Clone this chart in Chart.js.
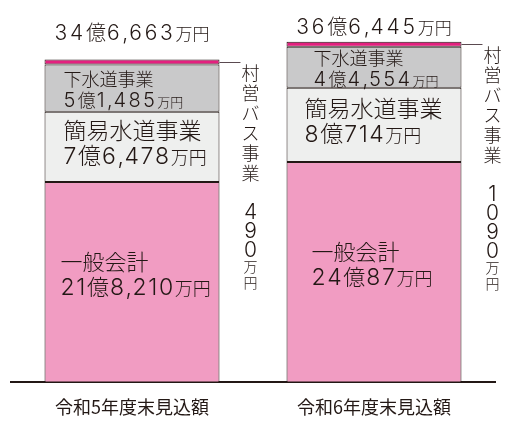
<!DOCTYPE html>
<html lang="ja">
<head>
<meta charset="utf-8">
<script src="https://cdn.jsdelivr.net/npm/chart.js@4"></script>
<style>
  body { margin: 0; background: #fff; }
  #wrap { width: 505px; height: 432px; }
</style>
</head>
<body>
<div id="wrap"><canvas id="myChart" width="505" height="432"></canvas></div>
<script>
// 単位：万円
const categories = ["令和5年度末見込額", "令和6年度末見込額"];
const general = [218210, 240087];     // 一般会計
const simpleWater = [76478, 80714];   // 簡易水道事業
const sewer = [51485, 44554];         // 下水道事業
const bus = [490, 1090];              // 村営バス事業
const seriesNames = ["一般会計", "簡易水道事業", "下水道事業", "村営バス事業"];

const ink = "#231815";
const font = "Inter, 'Noto Sans CJK JP', sans-serif";
const f = (size) => "300 " + size + "px " + font;

// 21億8,210 -> number part, "万円" drawn smaller
function oku(v) {
  const o = Math.floor(v / 10000), m = v % 10000;
  if (o === 0) return m.toLocaleString("en-US");
  return o + "億" + (m ? m.toLocaleString("en-US") : "");
}

// draws (or just measures) "xx億x,xxx万円" with wide digits
function money(ctx, x, y, v, st, draw) {
  let cx = x;
  ctx.textAlign = "left";
  ctx.textBaseline = "alphabetic";
  for (const ch of oku(v)) {
    const dig = /[0-9]/.test(ch);
    const comma = ch === ",";
    ctx.font = f(dig || comma ? st.digit : st.kanji);
    if (draw) ctx.fillText(ch, cx, y);
    cx += ctx.measureText(ch).width + (dig ? st.sp : comma ? st.sp / 3 : 1);
  }
  ctx.font = f(st.small);
  if (draw) ctx.fillText("万円", cx, y);
  return cx + ctx.measureText("万円").width - x;
}

// label placement inside each segment (offsets from segment middle)
const segStyle = [
  { kanji: 22, digit: 23, small: 18, sp: 1.6, dy: [-12.5, 13], dx: [16, 25] },   // 一般会計
  { kanji: 23, digit: 23, small: 18, sp: 1.6, dy: [-8, 17.5], dx: [19, 18] },    // 簡易水道事業
  { kanji: 18, digit: 20, small: 13, sp: 2.4, dy: [-2, 19], dx: [19, 27] },      // 下水道事業
];
const totalStyle = { kanji: 20, digit: 21, small: 17, sp: 2.8 };
const totalBaseline = [40, 34];

const labelPlugin = {
  id: "segLabels",
  afterDatasetsDraw(chart) {
    const ctx = chart.ctx;
    const series = [general, simpleWater, sewer, bus];
    ctx.save();
    ctx.fillStyle = ink;
    categories.forEach((c, j) => {
      // segment labels
      for (let d = 0; d < 3; d++) {
        const el = chart.getDatasetMeta(d).data[j];
        const st = segStyle[d];
        const mid = (el.y + el.base) / 2;
        const left = el.x - el.width / 2 + st.dx[j];
        ctx.font = f(st.kanji);
        ctx.textAlign = "left";
        ctx.textBaseline = "alphabetic";
        ctx.fillText(seriesNames[d], left, mid + st.dy[0]);
        money(ctx, left, mid + st.dy[1], series[d][j], st, true);
      }
      // total above bar
      const total = general[j] + simpleWater[j] + sewer[j] + bus[j];
      const top = chart.getDatasetMeta(3).data[j];
      const w = money(ctx, 0, 0, total, totalStyle, false);
      money(ctx, top.x - w / 2, totalBaseline[j], total, totalStyle, true);

      // bus leader line + vertical text
      const right = top.x + top.width / 2;
      const ly = Math.round((top.y + top.base) / 2) + 0.5;
      ctx.strokeStyle = "#5a4a50";
      ctx.lineWidth = 1;
      ctx.beginPath();
      ctx.moveTo(right, ly);
      ctx.lineTo(right + 21, ly);
      ctx.stroke();

      const cx = right + 31;
      ctx.textAlign = "center";
      ctx.textBaseline = "middle";
      ctx.font = f(18);
      [...seriesNames[3]].forEach((ch, i) => ctx.fillText(ch, cx, ly + 12 + i * 20));
      let yy = ly + 150;
      ctx.font = f(21);
      [...String(bus[j])].forEach(ch => { ctx.fillText(ch, cx, yy); yy += 19; });
      yy -= 2;
      ctx.font = f(14);
      ["万", "円"].forEach(ch => { ctx.fillText(ch, cx, yy); yy += 16; });
    });
    ctx.restore();
  }
};

const seg = { borderColor: ink, borderWidth: 1, borderSkipped: false,
              categoryPercentage: 1, barPercentage: 0.723 };

const config = {
  type: "bar",
  data: {
    labels: categories,
    datasets: [
      { ...seg, label: seriesNames[0], data: general, backgroundColor: "#f19cc2" },
      { ...seg, label: seriesNames[1], data: simpleWater, backgroundColor: "#eeefee" },
      { ...seg, label: seriesNames[2], data: sewer, backgroundColor: "#c9c9ca" },
      { ...seg, label: seriesNames[3], data: bus, backgroundColor: "#e4207f", minBarLength: 5 },
    ],
  },
  options: {
    responsive: false,
    animation: false,
    layout: { padding: { top: 15, left: 11, right: 10, bottom: 0 } },
    plugins: { legend: { display: false }, tooltip: { enabled: false } },
    scales: {
      x: {
        stacked: true,
        grid: { display: false, drawTicks: false },
        border: { display: true, color: ink, width: 2 },
        ticks: { color: ink, padding: 14, autoSkip: false, maxRotation: 0,
                 font: { family: "'Noto Sans CJK JP', sans-serif", size: 18 } },
      },
      y: { stacked: true, display: false, min: 0, max: 400000 },
    },
  },
  plugins: [labelPlugin],
};
var myChart = new Chart(document.getElementById("myChart"), config);
</script>
</body>
</html>
